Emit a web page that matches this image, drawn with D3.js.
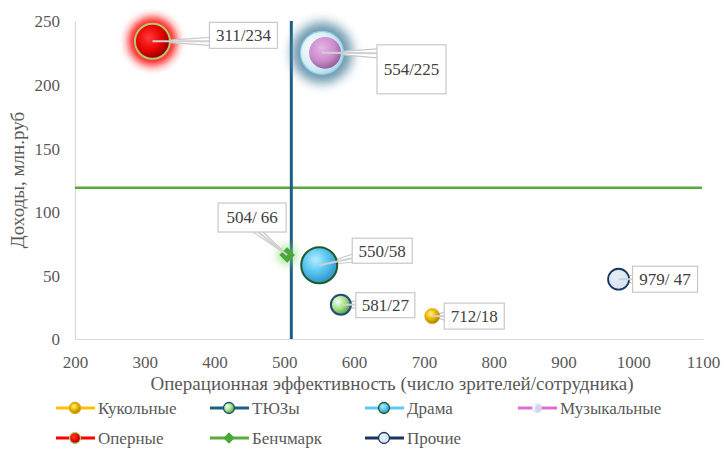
<!DOCTYPE html>
<html>
<head>
<meta charset="utf-8">
<script src="https://cdn.jsdelivr.net/npm/d3@7"></script>
<style>
  html, body { margin: 0; padding: 0; background: #fff; }
  svg { display: block; font-family: "Liberation Serif", "Times New Roman", serif; }
  svg text { font-family: "Liberation Serif", "Times New Roman", serif; }
</style>
</head>
<body>
<svg id="chart" width="725" height="449"></svg>
<script>
// Theatre groups: efficiency (spectators per employee) vs income (mln rub)
const categories = ["Кукольные", "ТЮЗы", "Драма", "Музыкальные", "Оперные", "Бенчмарк", "Прочие"];
const efficiency = [712, 581, 550, 554, 311, 504, 979];
const income = [18, 27, 58, 225, 234, 66, 47];
const bubbleSize = [56, 100, 324, 462, 306, 0, 110];
const pointLabels = ["712/18", "581/27", "550/58", "554/225", "311/234", "504/ 66", "979/ 47"];
const xTicks = [200, 300, 400, 500, 600, 700, 800, 900, 1000, 1100];
const yTicks = [0, 50, 100, 150, 200, 250];
const benchmarkX = 510;
const benchmarkY = 119;

const svg = d3.select("#chart");
const margin = { left: 75, right: 22, top: 21, bottom: 110 };
const W = 725, H = 449;

const x = d3.scaleLinear().domain([200, 1100]).range([margin.left, W - margin.right]);
const y = d3.scaleLinear().domain([0, 250]).range([H - margin.bottom, margin.top]);
const r = d3.scaleSqrt().domain([0, 484]).range([0, 22]);

const defs = svg.append("defs");
function radial(id, stops, cx = "40%", cy = "35%", rr = "65%") {
  const g = defs.append("radialGradient").attr("id", id)
    .attr("cx", cx).attr("cy", cy).attr("r", rr).attr("fx", cx).attr("fy", cy);
  stops.forEach(s => g.append("stop").attr("offset", s[0]).attr("stop-color", s[1]));
}
radial("g-puppet", [["0%", "#fff3a0"], ["45%", "#f5c000"], ["100%", "#b07d00"]]);
radial("g-tyuz", [["0%", "#f4fff0"], ["50%", "#a9e28c"], ["100%", "#4f9a3a"]], "35%", "35%", "70%");
radial("g-drama", [["0%", "#b8ecff"], ["50%", "#5cc8f2"], ["100%", "#2f95c8"]]);
radial("g-music-outer", [["0%", "#ffffff"], ["60%", "#d8edf5"], ["100%", "#a8d4e6"]], "35%", "40%", "70%");
radial("g-music-inner", [["0%", "#e7b3ea"], ["60%", "#c98bcb"], ["100%", "#8d5a92"]], "40%", "35%", "70%");
radial("g-opera", [["0%", "#ff3a3a"], ["55%", "#e60000"], ["100%", "#6a0000"]], "40%", "40%", "70%");
radial("g-other", [["0%", "#e6eef8"], ["100%", "#d6e3f1"]]);

const blur = (id, sd) => defs.append("filter").attr("id", id)
  .attr("x", "-100%").attr("y", "-100%").attr("width", "300%").attr("height", "300%")
  .append("feGaussianBlur").attr("stdDeviation", sd);
blur("glow-red", 4.5);
blur("glow-blue", 5.5);
blur("glow-green", 4);

const serif = "'Liberation Serif', 'Times New Roman', serif";

// Axes
const xAxis = svg.append("g").attr("transform", `translate(0,${y(0)})`)
  .call(d3.axisBottom(x).tickValues(xTicks).tickSize(0).tickPadding(17).tickFormat(d3.format("d")));
const yAxis = svg.append("g").attr("transform", `translate(${x(200)},0)`)
  .call(d3.axisLeft(y).tickValues(yTicks).tickSize(0).tickPadding(15).tickFormat(d3.format("d")));
[xAxis, yAxis].forEach(a => {
  a.attr("font-family", serif);
  a.select(".domain").attr("stroke", "#d9d9d9").attr("stroke-width", 1.2);
  a.selectAll("text").attr("fill", "#595959").style("font-size", "17px").style("font-family", serif);
});
yAxis.selectAll("text").attr("dy", "0.35em");
xAxis.selectAll("text").attr("dy", "0.71em");

// Axis titles
svg.append("text").attr("x", 392).attr("y", 390).attr("text-anchor", "middle")
  .attr("fill", "#595959").style("font-size", "19px").style("font-family", serif)
  .text("Операционная эффективность (число зрителей/сотрудника)");
svg.append("text").attr("transform", `translate(24,${(y(0) + y(250)) / 2}) rotate(-90)`)
  .attr("text-anchor", "middle").attr("fill", "#595959").style("font-size", "19px")
  .style("font-family", serif)
  .text("Доходы, млн.руб");

// Benchmark lines
svg.append("line").attr("x1", x(200)).attr("x2", x(1100) - 1)
  .attr("y1", y(benchmarkY)).attr("y2", y(benchmarkY))
  .attr("stroke", "#5aab3c").attr("stroke-width", 2.5);
svg.append("line").attr("x1", x(benchmarkX)).attr("x2", x(benchmarkX))
  .attr("y1", y(250)).attr("y2", y(0))
  .attr("stroke", "#1f5f85").attr("stroke-width", 3);

// Label callouts (box offsets from each point, in px)
const labelBox = [
  { dx: 12, dy: -13, w: 60, h: 26 },
  { dx: 15, dy: -12, w: 59, h: 25 },
  { dx: 33, dy: -27, w: 60, h: 25 },
  { dx: 55, dy: -8, w: 69, h: 49 },
  { dx: 57, dy: -19, w: 68, h: 26 },
  { dx: -69, dy: -52, w: 68, h: 29 },
  { dx: 14, dy: -13, w: 65, h: 26 }
];

const pts = categories.map((c, i) => ({
  name: c, cx: x(efficiency[i]), cy: y(income[i]), rad: r(bubbleSize[i]),
  label: pointLabels[i], box: labelBox[i], i
}));

function anchors(p) {
  const b = p.box;
  const bx = p.cx + b.dx, by = p.cy + b.dy;
  if (p.i === 3) return [[bx, by + 4], [bx, by + 13]];
  if (b.dx < 0) return [[bx + b.w - 33, by + b.h], [bx + b.w - 23, by + b.h]];
  const ay = Math.min(Math.max(p.cy, by + 5), by + b.h - 5);
  return [[bx, ay - 4], [bx, ay + 4]];
}

// Glows behind bubbles
const opera = pts[4], music = pts[3], bench = pts[5];
svg.append("circle").attr("cx", opera.cx).attr("cy", opera.cy).attr("r", opera.rad + 7)
  .attr("fill", "#ff1a1a").attr("filter", "url(#glow-red)");
svg.append("circle").attr("cx", music.cx).attr("cy", music.cy).attr("r", music.rad + 9)
  .attr("fill", "#5b8ca6").attr("opacity", 0.9).attr("filter", "url(#glow-blue)");
svg.append("circle").attr("cx", bench.cx).attr("cy", bench.cy).attr("r", 10)
  .attr("fill", "#7fd86a").attr("opacity", 0.6).attr("filter", "url(#glow-green)");

// Callout pointers
const calloutG = svg.append("g");
pts.forEach(p => {
  const [a1, a2] = anchors(p);
  calloutG.append("path")
    .attr("d", `M${a1[0]},${a1[1]}L${p.cx},${p.cy}L${a2[0]},${a2[1]}`)
    .attr("fill", "#fff").attr("stroke", "#c8c8c8").attr("stroke-width", 1.2);
});

// Markers
const m = svg.append("g");
const st = [
  { fill: "url(#g-puppet)", stroke: "#d9a400", sw: 0.8 },
  { fill: "url(#g-tyuz)", stroke: "#1f4e79", sw: 2 },
  { fill: "url(#g-drama)", stroke: "#1e5a2c", sw: 2 },
  null,
  { fill: "url(#g-opera)", stroke: "#b5c96a", sw: 2 },
  null,
  { fill: "url(#g-other)", stroke: "#17375e", sw: 1.8 }
];
pts.forEach(p => {
  if (p.i === 3) {
    m.append("circle").attr("cx", p.cx).attr("cy", p.cy).attr("r", p.rad)
      .attr("fill", "url(#g-music-outer)").attr("stroke", "#8fd0e6").attr("stroke-width", 1.2);
    m.append("circle").attr("cx", p.cx + 3).attr("cy", p.cy).attr("r", p.rad * 0.74)
      .attr("fill", "url(#g-music-inner)");
  } else if (p.i === 5) {
    m.append("rect").attr("x", -5.5).attr("y", -5.5).attr("width", 11).attr("height", 11)
      .attr("transform", `translate(${p.cx},${p.cy}) rotate(45)`).attr("fill", "#4aa83a");
  } else {
    const s = st[p.i];
    m.append("circle").attr("cx", p.cx).attr("cy", p.cy).attr("r", p.rad)
      .attr("fill", s.fill).attr("stroke", s.stroke).attr("stroke-width", s.sw);
  }
});

// Pointer tails drawn over markers toward centres
pts.forEach(p => {
  const [a1, a2] = anchors(p);
  svg.append("line").attr("x1", (a1[0] + a2[0]) / 2).attr("y1", (a1[1] + a2[1]) / 2)
    .attr("x2", p.cx).attr("y2", p.cy)
    .attr("stroke", "#d0d0d0").attr("stroke-width", 2);
});

// Label boxes
const lg = svg.append("g");
pts.forEach(p => {
  const b = p.box;
  const bx = p.cx + b.dx, by = p.cy + b.dy;
  lg.append("rect").attr("x", bx).attr("y", by).attr("width", b.w).attr("height", b.h)
    .attr("fill", "#fff").attr("stroke", "#c8c8c8").attr("stroke-width", 1.2);
  lg.append("text").attr("x", bx + b.w / 2).attr("y", by + b.h / 2).attr("dy", "0.35em")
    .attr("text-anchor", "middle").attr("fill", "#404040").style("font-size", "17px")
    .style("font-family", serif)
    .text(p.label);
});

// Legend
const legendColors = ["#ffc000", "#1f5f85", "#5bc8f5", "#da70d6", "#ff0000", "#5aab3c", "#17375e"];
const legendPos = [[56, 408], [210, 408], [365, 408], [518, 408], [56, 438], [210, 438], [365, 438]];
const leg = svg.append("g");
categories.forEach((c, i) => {
  const [lx, ly] = legendPos[i];
  const g = leg.append("g").attr("transform", `translate(${lx},${ly})`);
  g.append("line").attr("x1", 0).attr("x2", 39).attr("y1", 0).attr("y2", 0)
    .attr("stroke", legendColors[i]).attr("stroke-width", 3);
  if (i === 5) {
    g.append("rect").attr("x", -4).attr("y", -4).attr("width", 8).attr("height", 8)
      .attr("transform", "translate(19,0) rotate(45)").attr("fill", "#4aa83a");
  } else if (i === 3) {
    g.append("circle").attr("cx", 19).attr("r", 5).attr("fill", "url(#g-music-outer)");
    g.append("circle").attr("cx", 20).attr("r", 3).attr("fill", "#e8c8ea");
  } else {
    const s = st[i];
    g.append("circle").attr("cx", 19).attr("r", 5.5).attr("fill", s.fill)
      .attr("stroke", s.stroke).attr("stroke-width", 1.3);
  }
  g.append("text").attr("x", 42).attr("y", 0).attr("dy", "0.35em")
    .attr("fill", "#595959").style("font-size", "17px").style("font-family", serif).text(c);
});
</script>
</body>
</html>
